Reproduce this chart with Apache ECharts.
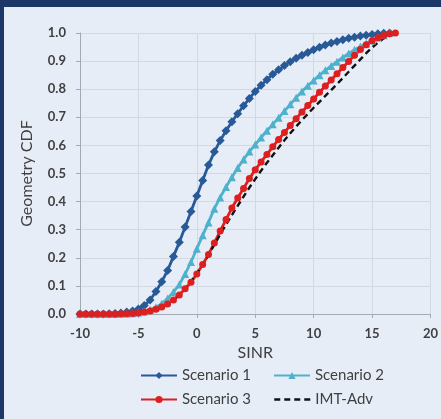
<!DOCTYPE html>
<html>
<head>
<meta charset="utf-8">
<script src="https://cdn.jsdelivr.net/npm/echarts@6/dist/echarts.min.js"></script>
<style>
  html, body { margin: 0; padding: 0; background: #1d3868; }
  #chart { width: 441px; height: 419px; }
</style>
</head>
<body>
<div id="chart"></div>
<script>
// SINR sample points (dB)
const sinr = [
  -10, -9.5, -9, -8.5, -8, -7.5, -7, -6.5, -6, -5.5,
  -5, -4.5, -4, -3.5, -3, -2.5, -2, -1.5, -1, -0.5,
  0, 0.5, 1, 1.5, 2, 2.5, 3, 3.5, 4, 4.5,
  5, 5.5, 6, 6.5, 7, 7.5, 8, 8.5, 9, 9.5,
  10, 10.5, 11, 11.5, 12, 12.5, 13, 13.5, 14, 14.5,
  15, 15.5, 16, 16.5, 17
];

// Geometry CDF per scenario (null = no sample)
const scenario1 = [
  0, 0, 0, 0, 0, 0.001, 0.002, 0.004, 0.007, 0.011,
  0.018, 0.03, 0.05, 0.08, 0.115, 0.155, 0.205, 0.255, 0.31, 0.365,
  0.42, 0.475, 0.53, 0.577, 0.617, 0.652, 0.684, 0.713, 0.741, 0.767,
  0.792, 0.814, 0.834, 0.853, 0.869, 0.884, 0.898, 0.91, 0.921, 0.931,
  0.94, 0.949, 0.957, 0.964, 0.97, 0.976, 0.981, 0.985, 0.989, 0.992,
  0.995, 0.997, 0.999, 1.0, null
];
const scenario2 = [
  0, 0, 0, 0, 0, 0, 0, 0.001, 0.002, 0.003,
  0.005, 0.009, 0.015, 0.024, 0.037, 0.055, 0.078, 0.105, 0.142, 0.185,
  0.232, 0.28, 0.326, 0.375, 0.415, 0.452, 0.487, 0.52, 0.55, 0.578,
  0.603, 0.628, 0.652, 0.675, 0.698, 0.722, 0.746, 0.77, 0.792, 0.812,
  0.831, 0.85, 0.867, 0.883, 0.898, 0.913, 0.927, 0.94, 0.952, 0.963,
  0.973, 0.984, 0.992, 1.0, null
];
const scenario3 = [
  0, 0, 0, 0, 0, 0, 0, 0.001, 0.001, 0.002,
  0.004, 0.007, 0.011, 0.017, 0.025, 0.036, 0.05, 0.068, 0.09, 0.113,
  0.142, 0.176, 0.212, 0.253, 0.295, 0.336, 0.377, 0.413, 0.447, 0.482,
  0.513, 0.541, 0.568, 0.595, 0.621, 0.646, 0.671, 0.695, 0.719, 0.742,
  0.765, 0.789, 0.811, 0.833, 0.855, 0.877, 0.899, 0.921, 0.941, 0.958,
  0.972, 0.983, 0.991, 0.997, 1.0
];
const imtAdv = [
  0, 0, 0, 0, 0, 0, 0, 0, 0, 0.001,
  0.003, 0.006, 0.01, 0.016, 0.025, 0.036, 0.05, 0.068, 0.09, 0.115,
  0.145, 0.175, 0.21, 0.247, 0.283, 0.318, 0.352, 0.385, 0.418, 0.45,
  0.48, 0.51, 0.538, 0.565, 0.592, 0.618, 0.643, 0.667, 0.69, 0.712,
  0.734, 0.755, 0.776, 0.797, 0.818, 0.84, 0.862, 0.884, 0.906, 0.928,
  0.948, 0.966, 0.981, 0.993, 1.0
];

const seriesNames = ['Scenario 1', 'Scenario 2', 'Scenario 3', 'IMT-Adv'];
const xTicks = [-10, -5, 0, 5, 10, 15, 20];

function pairs(values) {
  const out = [];
  for (let i = 0; i < sinr.length; i++) {
    if (values[i] !== null) out.push([sinr[i], values[i]]);
  }
  return out;
}

const FONT = 'Lato, "Open Sans", sans-serif';
const TXT = '#404040';
const AXIS = '#a5a9b0';
const GRID = '#d3d9e3';

const chart = echarts.init(document.getElementById('chart'), null, { renderer: 'canvas' });

function legendAt(name, left, top, hideSymbol) {
  const lg = {
    data: [name], left: left, top: top,
    itemWidth: 36, itemHeight: 9, itemGap: 0, padding: 0,
    textStyle: { fontFamily: FONT, fontSize: 15, color: TXT }
  };
  if (hideSymbol) {
    lg.itemStyle = { opacity: 0 };
    lg.lineStyle = { width: 2.5 };
  }
  return lg;
}

chart.setOption({
  backgroundColor: '#1d3868',
  animation: false,
  graphic: [{
    type: 'rect', silent: true, z: -10,
    shape: { x: 4, y: 7, width: 437, height: 412 },
    style: { fill: '#e7edf7' }
  }],
  grid: { left: 80, right: 9, top: 33, bottom: 105 },
  legend: [
    legendAt(seriesNames[0], 140, 368, false),
    legendAt(seriesNames[1], 273, 368, false),
    legendAt(seriesNames[2], 140, 392, false),
    legendAt(seriesNames[3], 273, 392, true)
  ],
  xAxis: {
    type: 'value', min: xTicks[0], max: xTicks[xTicks.length - 1], interval: 5,
    name: 'SINR', nameLocation: 'middle', nameGap: 24,
    nameTextStyle: { fontFamily: FONT, fontSize: 16, color: TXT },
    axisLine: { onZero: false, lineStyle: { color: AXIS, width: 1 } },
    axisTick: { show: true, length: 4, lineStyle: { color: AXIS } },
    axisLabel: { fontFamily: FONT, fontSize: 13, fontWeight: 'bold', color: TXT, margin: 13 },
    splitLine: { show: true, lineStyle: { color: GRID, width: 1 } }
  },
  yAxis: {
    type: 'value', min: 0, max: 1, interval: 0.1,
    name: 'Geometry CDF', nameLocation: 'middle', nameGap: 45,
    nameTextStyle: { fontFamily: FONT, fontSize: 16, color: TXT },
    axisLine: { show: true, onZero: false, lineStyle: { color: AXIS, width: 1 } },
    axisTick: { show: true, length: 4, lineStyle: { color: AXIS } },
    axisLabel: { fontFamily: FONT, fontSize: 13, fontWeight: 'bold', color: TXT, margin: 14,
      formatter: v => v.toFixed(1) },
    splitLine: { show: true, lineStyle: { color: GRID, width: 1 } }
  },
  series: [
    {
      name: seriesNames[0], type: 'line', data: pairs(scenario1),
      symbol: 'diamond', symbolSize: 9, showSymbol: true,
      lineStyle: { color: '#285a97', width: 2.8 },
      itemStyle: { color: '#285a97' }
    },
    {
      name: seriesNames[1], type: 'line', data: pairs(scenario2),
      symbol: 'triangle', symbolSize: 8, showSymbol: true,
      lineStyle: { color: '#4fb1cc', width: 2.8 },
      itemStyle: { color: '#4fb1cc' }
    },
    {
      name: seriesNames[2], type: 'line', data: pairs(scenario3),
      symbol: 'circle', symbolSize: 7, showSymbol: true,
      lineStyle: { color: '#dd1f1f', width: 2.8 },
      itemStyle: { color: '#dd1f1f' }
    },
    {
      name: seriesNames[3], type: 'line', data: pairs(imtAdv),
      symbol: 'none', showSymbol: false,
      lineStyle: { color: '#111111', width: 2.4, type: [6, 4] },
      itemStyle: { color: '#111111' }
    }
  ]
});
</script>
</body>
</html>
